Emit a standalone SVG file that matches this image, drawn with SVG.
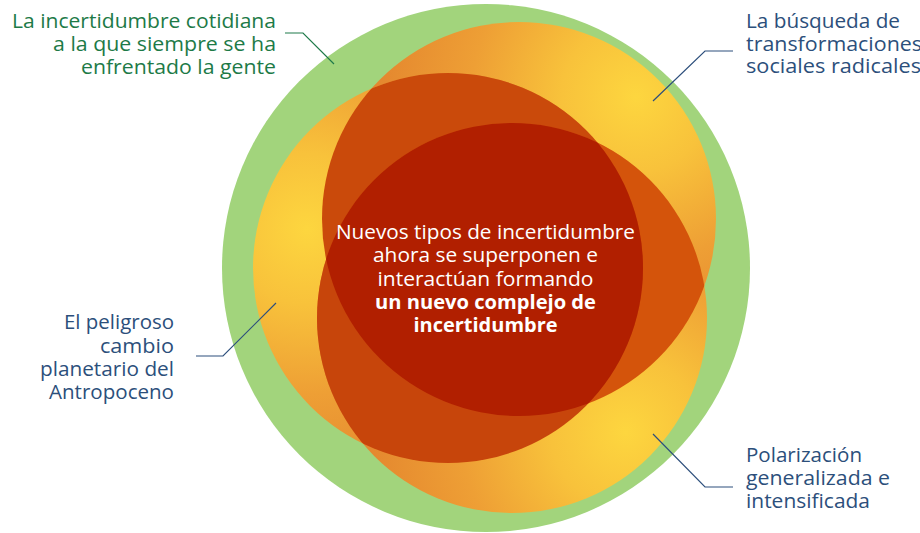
<svg xmlns="http://www.w3.org/2000/svg" width="920" height="533" viewBox="0 0 920 533">
<style>
text{font-family:"Open Sans","Noto Sans","DejaVu Sans",sans-serif;font-size:19.5px}
.g{fill:#1d7a47}
.b{fill:#2c4f7b}
.w{fill:#ffffff}
.bold{font-weight:700}
.e{text-anchor:end}
.m{text-anchor:middle}
.lg{fill:none;stroke:#1f7a4a;stroke-width:1.2}
.lb{fill:none;stroke:#2d4f7c;stroke-width:1.2}
</style>
<defs>
<radialGradient id="gT" gradientUnits="userSpaceOnUse" cx="636" cy="97" r="300">
<stop offset="0" stop-color="#fdd63f"/><stop offset="0.25" stop-color="#f8c23b"/><stop offset="0.55" stop-color="#ee9f35"/><stop offset="1" stop-color="#e07d2c"/>
</radialGradient>
<radialGradient id="gL" gradientUnits="userSpaceOnUse" cx="307" cy="229" r="300">
<stop offset="0" stop-color="#fdd63f"/><stop offset="0.25" stop-color="#f8c23b"/><stop offset="0.55" stop-color="#ee9f35"/><stop offset="1" stop-color="#e07d2c"/>
</radialGradient>
<radialGradient id="gB" gradientUnits="userSpaceOnUse" cx="626" cy="432" r="300">
<stop offset="0" stop-color="#fdd63f"/><stop offset="0.25" stop-color="#f8c23b"/><stop offset="0.55" stop-color="#ee9f35"/><stop offset="1" stop-color="#e07d2c"/>
</radialGradient>
<clipPath id="cT"><circle cx="519" cy="219" r="197"/></clipPath>
<clipPath id="cL"><circle cx="448" cy="268" r="195"/></clipPath>
<clipPath id="cB"><circle cx="512" cy="318" r="195"/></clipPath>
</defs>

<g id="outer">
<circle cx="486" cy="268" r="264" fill="#a2d47c"/>
<text class="g e" x="276" y="28" textLength="264" lengthAdjust="spacingAndGlyphs">La incertidumbre cotidiana</text>
<text class="g e" x="276" y="51" textLength="223" lengthAdjust="spacingAndGlyphs">a la que siempre se ha</text>
<text class="g e" x="276" y="74" textLength="195" lengthAdjust="spacingAndGlyphs">enfrentado la gente</text>
</g>

<g id="node-transformaciones">
<circle cx="519" cy="219" r="197" fill="url(#gT)"/>
<text class="b" x="746" y="28" textLength="154" lengthAdjust="spacingAndGlyphs">La búsqueda de</text>
<text class="b" x="746" y="51" textLength="176" lengthAdjust="spacingAndGlyphs">transformaciones</text>
<text class="b" x="746" y="73" textLength="175" lengthAdjust="spacingAndGlyphs">sociales radicales</text>
</g>

<g id="node-antropoceno">
<circle cx="448" cy="268" r="195" fill="url(#gL)"/>
<text class="b e" x="174" y="329" textLength="110" lengthAdjust="spacingAndGlyphs">El peligroso</text>
<text class="b e" x="174" y="353" textLength="74" lengthAdjust="spacingAndGlyphs">cambio</text>
<text class="b e" x="174" y="376" textLength="134" lengthAdjust="spacingAndGlyphs">planetario del</text>
<text class="b e" x="174" y="399" textLength="125" lengthAdjust="spacingAndGlyphs">Antropoceno</text>
</g>

<g id="node-polarizacion">
<circle cx="512" cy="318" r="195" fill="url(#gB)"/>
<text class="b" x="746" y="462" textLength="116" lengthAdjust="spacingAndGlyphs">Polarización</text>
<text class="b" x="746" y="485" textLength="144" lengthAdjust="spacingAndGlyphs">generalizada e</text>
<text class="b" x="746" y="508" textLength="124" lengthAdjust="spacingAndGlyphs">intensificada</text>
</g>

<g id="overlaps">
<circle cx="448" cy="268" r="195" fill="#ca4a0b" clip-path="url(#cT)"/>
<circle cx="512" cy="318" r="195" fill="#d4540b" clip-path="url(#cT)"/>
<circle cx="512" cy="318" r="195" fill="#c7450b" clip-path="url(#cL)"/>
</g>

<g id="center">
<g clip-path="url(#cT)"><circle cx="512" cy="318" r="195" fill="#b11f00" clip-path="url(#cL)"/></g>
<text class="w m" x="485.5" y="239" textLength="299" lengthAdjust="spacingAndGlyphs">Nuevos tipos de incertidumbre</text>
<text class="w m" x="485.5" y="262" textLength="225" lengthAdjust="spacingAndGlyphs">ahora se superponen e</text>
<text class="w m" x="485.5" y="285.5" textLength="216" lengthAdjust="spacingAndGlyphs">interactúan formando</text>
<text class="w m bold" x="485.5" y="308.5" textLength="221" lengthAdjust="spacingAndGlyphs">un nuevo complejo de</text>
<text class="w m bold" x="485.5" y="332" textLength="144" lengthAdjust="spacingAndGlyphs">incertidumbre</text>
</g>

<g id="connectors">
<polyline class="lg" points="285,33 303,33 334,64"/>
<polyline class="lb" points="733,51 705,51 653,101"/>
<polyline class="lb" points="196,356 223,356 276,303"/>
<polyline class="lb" points="653,434 705,487 733,487"/>
</g>
</svg>
